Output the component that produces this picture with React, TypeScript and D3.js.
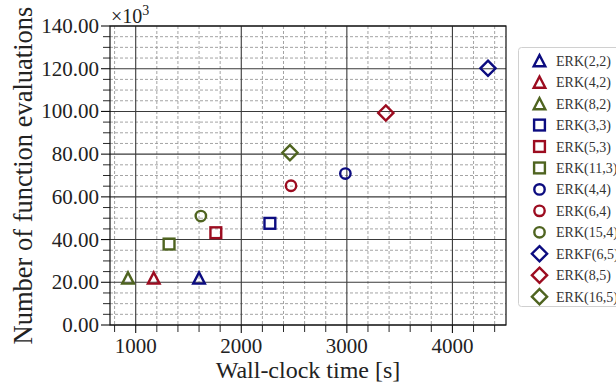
import React from "react";
import * as d3 from "d3";

const labels = ["ERK(2,2)", "ERK(4,2)", "ERK(8,2)", "ERK(3,3)", "ERK(5,3)", "ERK(11,3)", "ERK(4,4)", "ERK(6,4)", "ERK(15,4)", "ERKF(6,5)", "ERK(8,5)", "ERK(16,5)"];
const wallTimes = [1600, 1171, 927, 2271, 1759, 1316, 2986, 2471, 1617, 4337, 3369, 2461];
const evals = [22, 22, 22, 47.6, 43.2, 37.9, 70.9, 65.2, 51, 120.2, 99.3, 80.7];
const shapes = ["tri", "tri", "tri", "sq", "sq", "sq", "circ", "circ", "circ", "dia", "dia", "dia"];
const colors = ["#0c0c80", "#9c0c20", "#4f6420", "#0c0c80", "#9c0c20", "#4f6420", "#0c0c80", "#9c0c20", "#4f6420", "#0c0c80", "#9c0c20", "#4f6420"];
const xMajorTicks = [1000, 2000, 3000, 4000];
const yMajorTicks = [0, 20, 40, 60, 80, 100, 120, 140];

const W = 616, H = 389;
const L = 110, R = 506, T = 26, B = 325;
const FONT = "Liberation Serif, DejaVu Serif, serif";

function Marker({ shape, x, y, color }: { shape: string; x: number; y: number; color: string }) {
  const sw = 2.4;
  if (shape === "circ") return <circle cx={x} cy={y} r={5.2} fill="none" stroke={color} strokeWidth={sw} />;
  if (shape === "sq") return <rect x={x - 5.4} y={y - 5.4} width={10.8} height={10.8} fill="none" stroke={color} strokeWidth={sw} />;
  if (shape === "tri") {
    const p = `M${x},${y - 5.6}L${x - 5.8},${y + 5.6}L${x + 5.8},${y + 5.6}Z`;
    return <path d={p} fill="none" stroke={color} strokeWidth={sw} strokeLinejoin="miter" />;
  }
  const d = 7.6;
  return <path d={`M${x},${y - d}L${x + d},${y}L${x},${y + d}L${x - d},${y}Z`} fill="none" stroke={color} strokeWidth={sw} />;
}

export default function App() {
  const xMin = d3.min(wallTimes)!, xMax = d3.max(wallTimes)!;
  const pad = (xMax - xMin) * 0.05;
  const x = d3.scaleLinear().domain([xMin - pad, xMax + pad]).range([L, R]);
  const y = d3.scaleLinear().domain([0, 140]).range([B, T]);
  const xMinor = d3.range(800, xMax + pad, 200).filter((v) => v % 1000 !== 0 && x(v) >= L && x(v) <= R);
  const yMinor = d3.range(0, 141, 5).filter((v) => v % 20 !== 0);
  const tf = { fontFamily: FONT };

  return (
    <svg width={W} height={H} style={{ position: "absolute", left: 0, top: 0, background: "#fff", fontFamily: FONT }}>
      {/* minor grid */}
      {xMinor.map((v) => (
        <line key={"xg" + v} x1={x(v)} x2={x(v)} y1={T} y2={B} stroke="#9a9a9a" strokeWidth={0.9} strokeDasharray="3,2" />
      ))}
      {yMinor.map((v) => (
        <line key={"yg" + v} x1={L} x2={R} y1={y(v)} y2={y(v)} stroke="#9a9a9a" strokeWidth={0.9} strokeDasharray="3,2" />
      ))}
      {/* major grid */}
      {xMajorTicks.map((v) => (
        <line key={"xM" + v} x1={x(v)} x2={x(v)} y1={T} y2={B} stroke="#3a3a3a" strokeWidth={1.1} />
      ))}
      {yMajorTicks.map((v) => (
        <line key={"yM" + v} x1={L} x2={R} y1={y(v)} y2={y(v)} stroke="#3a3a3a" strokeWidth={1.1} />
      ))}
      {/* spines */}
      <rect x={L} y={T} width={R - L} height={B - T} fill="none" stroke="#111" strokeWidth={1.2} />
      {/* ticks */}
      {xMajorTicks.map((v) => (
        <g key={"xt" + v}>
          <line x1={x(v)} x2={x(v)} y1={B} y2={B + 8} stroke="#111" strokeWidth={1.1} />
          <text style={tf} x={x(v)} y={353} fontSize={21} textAnchor="middle" fill="#222">{v}</text>
        </g>
      ))}
      {xMinor.map((v) => (
        <line key={"xm" + v} x1={x(v)} x2={x(v)} y1={B} y2={B + 7} stroke="#111" strokeWidth={0.9} />
      ))}
      {yMajorTicks.map((v) => (
        <g key={"yt" + v}>
          <line x1={L - 9} x2={L} y1={y(v)} y2={y(v)} stroke="#111" strokeWidth={1.1} />
          <text style={tf} x={99} y={y(v) + 7} fontSize={21} textAnchor="end" fill="#222">{v.toFixed(2)}</text>
        </g>
      ))}
      {yMinor.map((v) => (
        <line key={"ym" + v} x1={L - 7} x2={L} y1={y(v)} y2={y(v)} stroke="#111" strokeWidth={0.9} />
      ))}
      {/* offset label */}
      <text style={tf} x={111} y={23} fontSize={20} fill="#222">×10<tspan fontSize={14} dy={-8}>3</tspan></text>
      {/* axis labels */}
      <text style={tf} x={(L + R) / 2} y={378} fontSize={24} textAnchor="middle" fill="#222">Wall-clock time [s]</text>
      <text style={tf} transform={`translate(32,${(T + B) / 2}) rotate(-90)`} fontSize={26.5} textAnchor="middle" fill="#222">Number of function evaluations</text>
      {/* data */}
      {labels.map((lab, i) => (
        <Marker key={lab} shape={shapes[i]} x={x(wallTimes[i])} y={y(evals[i])} color={colors[i]} />
      ))}
      {/* legend */}
      <rect x={518.5} y={47.5} width={110} height={259} rx={3} fill="#fff" fillOpacity={0.85} stroke="#d0d0d0" strokeWidth={1} />
      {labels.map((lab, i) => {
        const cy = 60.7 + i * 21.45;
        return (
          <g key={"lg" + lab}>
            <Marker shape={shapes[i]} x={539.5} y={cy} color={colors[i]} />
            <text style={tf} x={556} y={cy + 5} fontSize={14} fill="#333">{lab}</text>
          </g>
        );
      })}
    </svg>
  );
}
